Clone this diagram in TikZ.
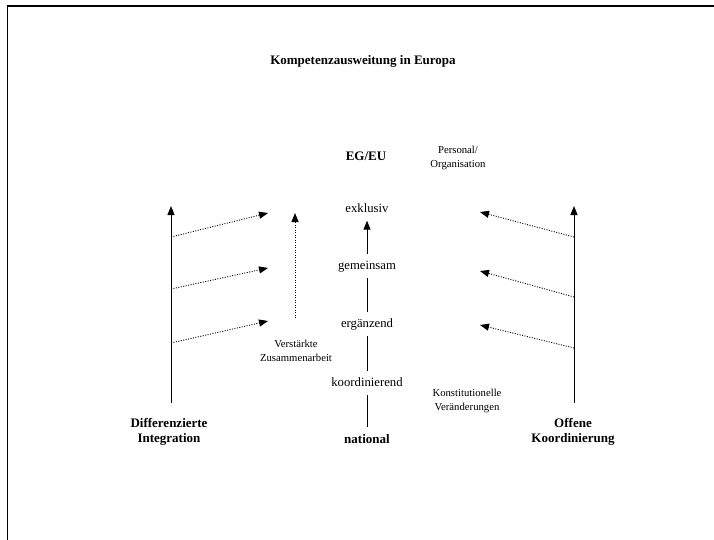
\documentclass[tikz,border=0pt]{standalone}
\usepackage{fontspec}
\setmainfont{Liberation Serif}
\usetikzlibrary{arrows.meta,positioning}

\tikzset{
  stufe/.style={font=\fontsize{12.7}{15}\selectfont, text height=9pt, text depth=3pt, inner sep=5.5pt},
  titel/.style={font=\bfseries\fontsize{13}{15}\selectfont, align=center, inner sep=0pt},
  notiz/.style={font=\fontsize{10.7}{13.4}\selectfont, align=center, inner sep=0pt},
  linie/.style={line width=1pt},
  achse/.style={line width=1pt, -{Triangle[length=9pt,width=7pt]}},
  pfeil/.style={line width=0.9pt, dash pattern=on 1pt off 1.5pt, -{Triangle[length=9pt,width=7pt]}}
}

\begin{document}
\begin{tikzpicture}[x=1pt,y=-1pt]
\useasboundingbox (0,0) rectangle (714,540);
% Rahmen
\draw[line width=1.5pt] (7.5,540) -- (7.5,6) -- (714,6);

\node[titel] (titel) at (363,61) {Kompetenzausweitung in Europa};

% Mitte
\node[titel] (egeu) at (366,156) {EG/EU};
\node[stufe] (exkl) at (367,209) {exklusiv};
\node[stufe] (gem) at (367,266) {gemeinsam};
\node[stufe] (erg) at (367,324) {ergänzend};
\node[stufe] (koord) at (367,383) {koordinierend};
\node[titel, text height=9pt, text depth=3pt, inner sep=7pt] (nat) at (367,440) {national};

\draw[linie] (nat) -- (koord);
\draw[linie] (koord) -- (erg);
\draw[linie] (erg) -- (gem);
\draw[achse] (gem) -- (exkl);

\node[notiz] (pers) at (458,158) {Personal/\\Organisation};
\node[notiz] (verst) at (296,351) {Verstärkte\\Zusammenarbeit};
\node[notiz] (konst) at (467,401) {Konstitutionelle\\Veränderungen};

% links
\node[titel] (diff) at (169,432) {Differenzierte\\Integration};
\coordinate (lu) at (171,403);
\coordinate (lo) at (171,206);
\draw[achse] (lu) -- (lo);
\coordinate (l1) at (171,237);
\coordinate (l2) at (171,289);
\coordinate (l3) at (171,343);
\coordinate (lt1) at (268,213);
\coordinate (lt2) at (268,268);
\coordinate (lt3) at (268,321);
\draw[pfeil] (l1) -- (lt1);
\draw[pfeil] (l2) -- (lt2);
\draw[pfeil] (l3) -- (lt3);
\coordinate (vu) at (295,318);
\coordinate (vo) at (295,213);
\draw[pfeil] (vu) -- (vo);

% rechts
\node[titel] (offen) at (573,432) {Offene\\Koordinierung};
\coordinate (ru) at (574,403);
\coordinate (ro) at (574,206);
\draw[achse] (ru) -- (ro);
\coordinate (r1) at (574,237);
\coordinate (r2) at (574,297);
\coordinate (r3) at (574,348);
\coordinate (rt1) at (480,212);
\coordinate (rt2) at (480,271);
\coordinate (rt3) at (480,325);
\draw[pfeil] (r1) -- (rt1);
\draw[pfeil] (r2) -- (rt2);
\draw[pfeil] (r3) -- (rt3);
\end{tikzpicture}
\end{document}
